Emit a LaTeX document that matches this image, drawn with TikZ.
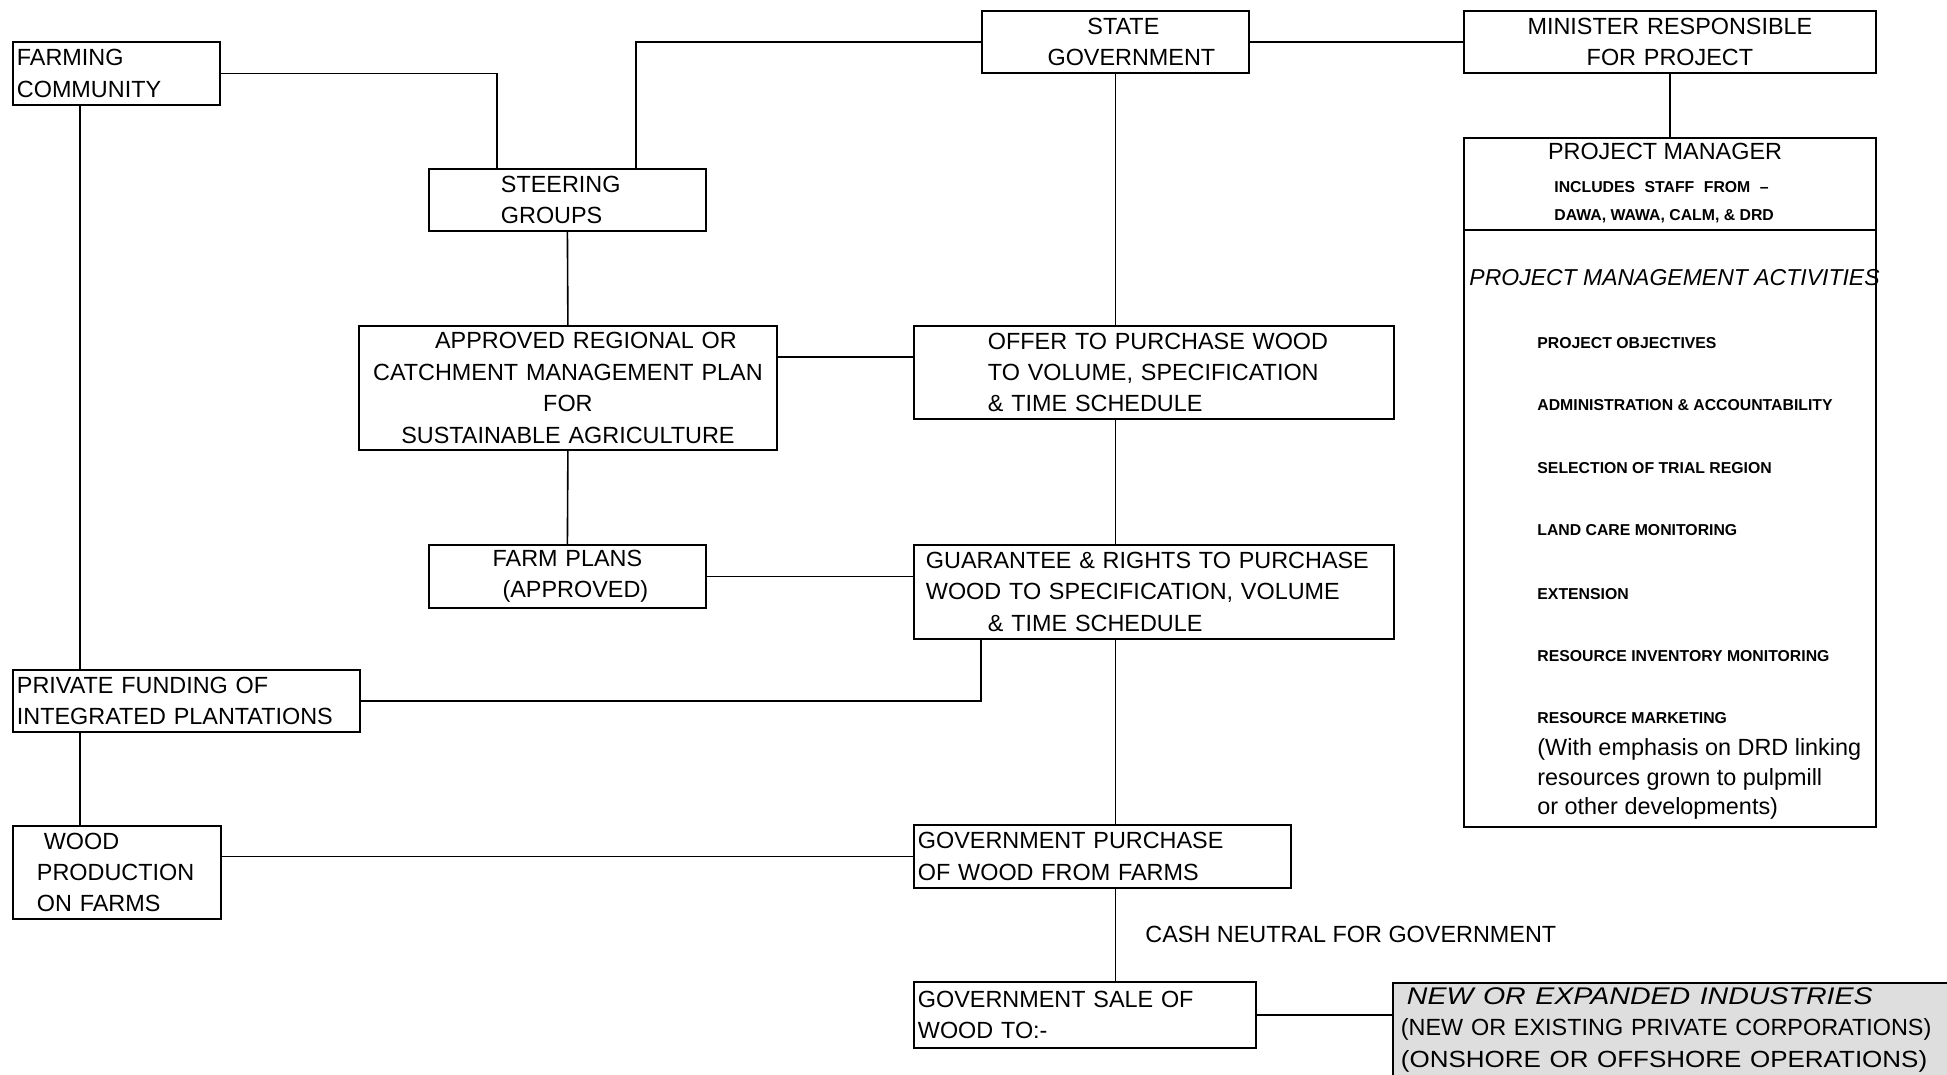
\documentclass[tikz,border=0pt]{standalone}
\usepackage{fontspec}
\setmainfont{Liberation Sans}
\usetikzlibrary{calc}
\newcommand\mf{\fontsize{11.7}{15.7}\selectfont}
\newcommand\wsp{\spaceskip=0.45em plus 0.1em minus 0.05em\relax}
\newcommand\smb{\fontsize{7.9}{9}\selectfont\bfseries}
\newcommand\incfont{\smb\spaceskip=0.6em\relax}
\begin{document}
\begin{tikzpicture}[x=0.5pt,y=-0.5pt,
  box/.style={draw, line width=0.9pt, anchor=north west, inner xsep=2pt, inner ysep=0pt, font=\mf},
  wire/.style={line width=0.8pt},
  txt/.style={inner sep=0pt, anchor=west}]
\clip (0,0) rectangle (1947,1075);
\fill[white] (0,0) rectangle (1947,1075);

% boxes
\node[box, text width=99.5pt, minimum height=31.5pt, align=left] (farm) at (12,41) {FARMING\\COMMUNITY};
\node[box, text width=129.5pt, minimum height=31pt, align=center] (state) at (981,10) {\hspace*{8pt}STATE\\\hspace*{16pt}GOVERNMENT};
\node[box, text width=202pt, minimum height=31pt, align=center] (minister) at (1463,10) {MINISTER RESPONSIBLE\\FOR PROJECT};
\node[box, text width=134.5pt, minimum height=31pt, align=left] (steer) at (428,168) {\hspace*{34pt}STEERING\\\hspace*{34pt}GROUPS};
\node[box, text width=205pt, minimum height=62pt, align=center, font={\mf\wsp}] (appr) at (358,325)
  {\hspace*{18pt}APPROVED REGIONAL OR\\CATCHMENT MANAGEMENT PLAN\\FOR\hspace*{14pt}\\SUSTAINABLE AGRICULTURE};
\node[box, text width=236pt, minimum height=46.5pt, align=left, font={\mf\wsp}] (offer) at (913,325)
  {\hspace*{35pt}OFFER TO PURCHASE WOOD\\\hspace*{35pt}TO VOLUME, SPECIFICATION\\\hspace*{35pt}\& TIME SCHEDULE};
\node[box, text width=134.5pt, minimum height=31.5pt, align=center] (fplan) at (428,544) {FARM PLANS\hspace*{8pt}\\\hspace*{8pt}(APPROVED)};
\node[box, text width=236pt, minimum height=47pt, align=left, font={\mf\wsp}] (guar) at (913,544)
  {\hspace*{4pt}GUARANTEE \& RIGHTS TO PURCHASE\\\hspace*{4pt}WOOD TO SPECIFICATION, VOLUME\\\hspace*{35pt}\& TIME SCHEDULE};
\node[box, text width=169.5pt, minimum height=31pt, align=left, font={\mf\wsp}] (priv) at (12,669) {PRIVATE FUNDING OF\\INTEGRATED PLANTATIONS};
\node[box, text width=100pt, minimum height=46.5pt, align=left, font={\mf\wsp}] (wood) at (12,825)
  {\hspace*{13.5pt}WOOD\\\hspace*{10pt}PRODUCTION\\\hspace*{10pt}ON FARMS};
\node[box, text width=184.5pt, minimum height=31.5pt, align=left] (gp) at (913,824) {GOVERNMENT PURCHASE\\OF WOOD FROM FARMS};
\node[box, text width=167pt, minimum height=33pt, align=left] (gs) at (913,981) {GOVERNMENT SALE OF\\WOOD TO:-};
\node[box, draw=none, fill=black!13, text width=270pt, inner xsep=3.5pt, minimum height=46pt, align=left, font={\mf\wsp}] (ni) at (1393,983)
  {\hspace*{3pt}\scalebox{1.22}[1.03]{\itshape NEW OR EXPANDED INDUSTRIES}\\
   (NEW OR EXISTING PRIVATE CORPORATIONS)\\
   \scalebox{1.11}[1]{(ONSHORE OR OFFSHORE OPERATIONS)}};
\draw[line width=0.9pt] (ni.south west) |- (ni.north east);

% project manager box
\node[draw, line width=0.9pt, anchor=north west, minimum width=206pt, minimum height=344.5pt, inner sep=0pt] (pm) at (1463,137) {};
\draw[line width=0.9pt] ($(pm.north west)+(0,93)$) -- ($(pm.north east)+(0,93)$);
\node[inner sep=0pt, font=\mf] (pmt) at ($(pm.north west)+(202,14)$) {PROJECT MANAGER};
\node[txt, font=\incfont] (pminc) at ($(pm.north west)+(91,50)$) {INCLUDES STAFF FROM –};
\node[txt, font=\smb] (pmdawa) at ($(pm.north west)+(91,79)$) {DAWA, WAWA, CALM, \& DRD};
\node[txt, font={\fontsize{11.5}{14}\selectfont\itshape}] (pma) at ($(pm.north west)+(6,141)$) {PROJECT MANAGEMENT ACTIVITIES};
\node[txt, font=\smb] (a1) at ($(pm.north west)+(74,206)$) {PROJECT OBJECTIVES};
\node[txt, font=\smb] (a2) at ($(pm.north west)+(74,268)$) {ADMINISTRATION \& ACCOUNTABILITY};
\node[txt, font=\smb] (a3) at ($(pm.north west)+(74,331)$) {SELECTION OF TRIAL REGION};
\node[txt, font=\smb] (a4) at ($(pm.north west)+(74,393)$) {LAND CARE MONITORING};
\node[txt, font=\smb] (a5) at ($(pm.north west)+(74,457)$) {EXTENSION};
\node[txt, font=\smb] (a6) at ($(pm.north west)+(74,519)$) {RESOURCE INVENTORY MONITORING};
\node[txt, font=\smb] (a7) at ($(pm.north west)+(74,581)$) {RESOURCE MARKETING};
\node[txt, font=\mf] (a8) at ($(pm.north west)+(74,612)$) {(With emphasis on DRD linking};
\node[txt, font=\mf] (a9) at ($(pm.north west)+(74,642)$) {resources grown to pulpmill};
\node[txt, font=\mf] (a10) at ($(pm.north west)+(74,671)$) {or other developments)};

% label
\node[txt, font=\mf] (cash) at (1145,934) {CASH NEUTRAL FOR GOVERNMENT};

% connectors
\draw[wire] (farm.east) -| ($(steer.north west)+(69,0)$);
\draw[wire] ($(steer.north west)+(208,0)$) |- (state.west);
\draw[wire] (state.east) -- (minister.west);
\draw[wire] (minister.south) -- (pm.north);
\draw[wire] (state.south) -- (state.south |- offer.north);
\draw[wire] (state.south |- offer.south) -- (state.south |- guar.north);
\draw[wire] (state.south |- guar.south) -- (state.south |- gp.north);
\draw[wire] (state.south |- gp.south) -- (state.south |- gs.north);
\draw[wire] (steer.south) -- (appr.north);
\draw[wire] (appr.south) -- (fplan.north);
\coordinate (ao) at ($(appr.north east)+(0,32)$);
\draw[wire] (ao) -- (ao -| offer.west);
\draw[wire] (fplan.east) -- (fplan.east -| guar.west);
\coordinate (fb) at ($(farm.south west)+(68,0)$);
\draw[wire] (fb) -- (fb |- priv.north);
\draw[wire] (priv.east) -| ($(guar.south west)+(68,0)$);
\draw[wire] (fb |- priv.south) -- (fb |- wood.north);
\draw[wire] (gp.west) -- (gp.west -| wood.east);
\draw[wire] (gs.east) -- (gs.east -| ni.west);
\end{tikzpicture}
\end{document}
